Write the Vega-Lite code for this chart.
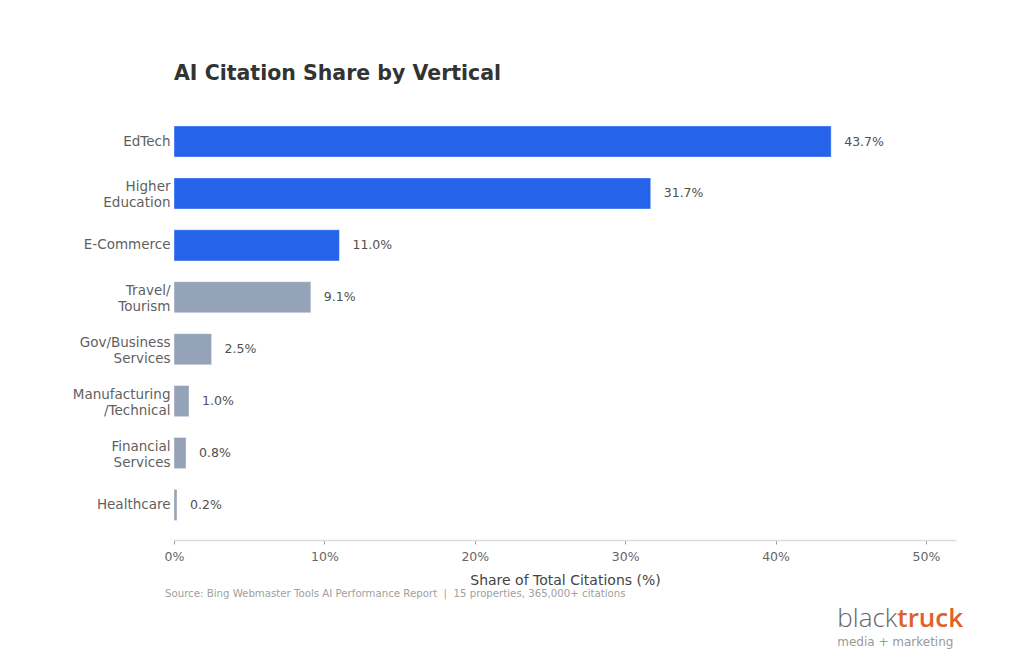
{
  "$schema": "https://vega.github.io/schema/vega-lite/v6.json",
  "autosize": "none",
  "padding": {"left": 174, "top": 106.5, "right": 68, "bottom": 124},
  "width": 782,
  "height": 433.5,
  "background": "white",
  "config": {
    "font": "DejaVu Sans",
    "view": {"stroke": null}
  },
  "title": {
    "text": "AI Citation Share by Vertical",
    "anchor": "start",
    "frame": "group",
    "fontSize": 20.5,
    "fontWeight": "bold",
    "color": "#333333",
    "offset": 22,
    "font": "DejaVu Sans"
  },
  "datasets": {
    "bars": [
      {"vertical": "EdTech", "share": 43.7, "label": "43.7%", "group": "top"},
      {"vertical": "Higher|Education", "share": 31.7, "label": "31.7%", "group": "top"},
      {"vertical": "E-Commerce", "share": 11.0, "label": "11.0%", "group": "top"},
      {"vertical": "Travel/|Tourism", "share": 9.1, "label": "9.1%", "group": "other"},
      {"vertical": "Gov/Business|Services", "share": 2.5, "label": "2.5%", "group": "other"},
      {"vertical": "Manufacturing|/Technical", "share": 1.0, "label": "1.0%", "group": "other"},
      {"vertical": "Financial|Services", "share": 0.8, "label": "0.8%", "group": "other"},
      {"vertical": "Healthcare", "share": 0.2, "label": "0.2%", "group": "other"}
    ],
    "notes": [
      {"text": "Source: Bing Webmaster Tools AI Performance Report \u00a0|\u00a0 15 properties, 365,000+ citations"}
    ]
  },
  "layer": [
    {
      "data": {"name": "bars"},
      "mark": {"type": "bar", "stroke": "#ffffff", "strokeOpacity": 0.4, "strokeWidth": 1},
      "encoding": {
        "y": {
          "field": "vertical",
          "type": "nominal",
          "sort": null,
          "scale": {"paddingInner": 0.4, "paddingOuter": 0.375},
          "axis": {
            "title": null,
            "domain": false,
            "ticks": false,
            "labelPadding": 4,
            "labelFontSize": 13.5,
            "labelColor": "#5f5f5f",
            "labelLineHeight": 15.5,
            "labelFont": "DejaVu Sans",
            "labelOffset": {"condition": {"test": "indexof(datum.value, '|') >= 0", "value": -6}, "value": 0},
            "labelExpr": "split(datum.label, '|')"
          }
        },
        "x": {
          "field": "share",
          "type": "quantitative",
          "scale": {"domain": [0, 52], "nice": false},
          "axis": {
            "values": [0, 10, 20, 30, 40, 50],
            "labelExpr": "datum.value + '%'",
            "labelFlush": false,
            "grid": false,
            "domainColor": "#dddddd",
            "domainWidth": 1.5,
            "tickColor": "#999999",
            "tickSize": 4,
            "labelPadding": 6,
            "labelFontSize": 12.5,
            "labelColor": "#666666",
            "labelFont": "DejaVu Sans",
            "title": "Share of Total Citations (%)",
            "titleFontSize": 14,
            "titleFontWeight": "normal",
            "titleColor": "#444444",
            "titleFont": "DejaVu Sans",
            "titlePadding": 11
          }
        },
        "color": {
          "field": "group",
          "type": "nominal",
          "scale": {"domain": ["top", "other"], "range": ["#2563eb", "#94a3b8"]},
          "legend": null
        }
      }
    },
    {
      "data": {"name": "bars"},
      "mark": {"type": "text", "align": "left", "baseline": "middle", "dx": 13, "fontSize": 12.5, "color": "#505050", "font": "DejaVu Sans"},
      "encoding": {
        "y": {"field": "vertical", "type": "nominal", "sort": null},
        "x": {"field": "share", "type": "quantitative"},
        "text": {"field": "label"}
      }
    },
    {
      "data": {"name": "notes"},
      "mark": {"type": "text", "align": "left", "baseline": "middle", "dx": -9, "fontSize": 10.2, "color": "#a0a0a0", "font": "DejaVu Sans"},
      "encoding": {
        "x": {"datum": 0, "type": "quantitative"},
        "y": {"value": 487},
        "text": {"field": "text"}
      }
    },
    {
      "data": {"values": [{"t": "black"}]},
      "mark": {"type": "text", "align": "right", "baseline": "alphabetic", "fontSize": 26, "fontWeight": 300, "color": "#666666", "font": "Open Sans"},
      "encoding": {
        "x": {"datum": 48.1, "type": "quantitative"},
        "y": {"value": 520.5},
        "text": {"field": "t"}
      }
    },
    {
      "data": {"values": [{"t": "truck"}]},
      "mark": {"type": "text", "align": "left", "baseline": "alphabetic", "fontSize": 26, "fontWeight": 600, "color": "#e0602a", "font": "Open Sans"},
      "encoding": {
        "x": {"datum": 48.1, "type": "quantitative"},
        "y": {"value": 520.5},
        "text": {"field": "t"}
      }
    },
    {
      "data": {"values": [{"t": "media + marketing"}]},
      "mark": {"type": "text", "align": "left", "baseline": "alphabetic", "fontSize": 12, "color": "#999999", "font": "DejaVu Sans"},
      "encoding": {
        "x": {"datum": 44.1, "type": "quantitative"},
        "y": {"value": 539},
        "text": {"field": "t"}
      }
    }
  ]
}
